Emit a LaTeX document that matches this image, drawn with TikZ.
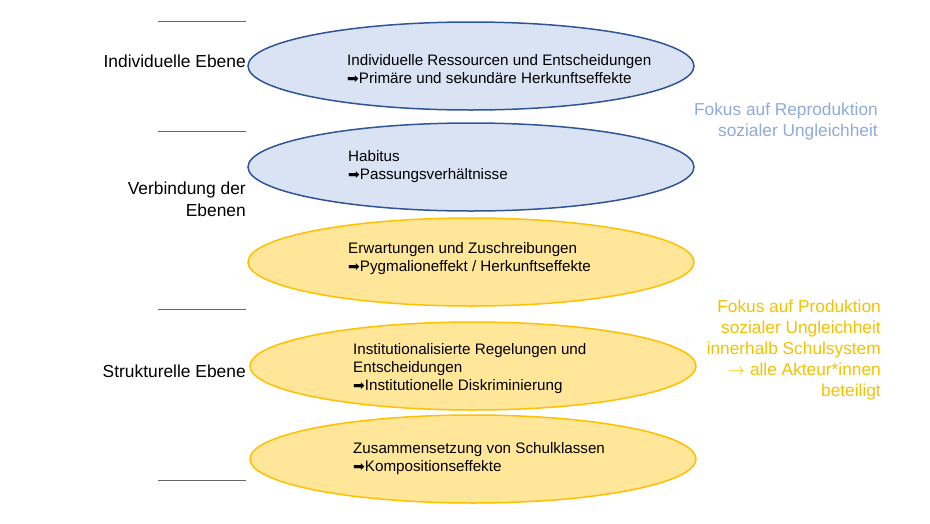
\documentclass[tikz,border=0pt]{standalone}
\usepackage{fontspec}
\setmainfont{Liberation Sans}
\newfontfamily\arrowfont{DejaVu Sans}
\usetikzlibrary{shapes.geometric}
\definecolor{blaufill}{HTML}{DAE3F3}
\definecolor{blaurand}{HTML}{2F5597}
\definecolor{blautext}{HTML}{8FAADC}
\definecolor{gelbfill}{HTML}{FFE699}
\definecolor{gelbrand}{HTML}{FFC000}
\definecolor{gelbtext}{HTML}{F2C200}
\newcommand{\pfeil}{{\arrowfont\fontsize{14}{14}\selectfont ➡}}

\begin{document}
\begin{tikzpicture}[x=1pt,y=-1pt]

\tikzset{ebene/.style = {shape=ellipse,line width=1.5pt,inner sep=0pt,minimum width=446pt,minimum height=88pt}}
\tikzset{blau/.style = {ebene,draw=blaurand,fill=blaufill}}
\tikzset{gelb/.style = {ebene,draw=gelbrand,fill=gelbfill}}
\tikzset{inhalt/.style = {anchor=west,align=left,inner sep=0pt,font=\fontsize{15.2}{18}\selectfont}}
\tikzset{stufe/.style = {anchor=east,align=right,inner sep=0pt,font=\fontsize{17.4}{22}\selectfont}}
\tikzset{fokus/.style = {anchor=east,align=right,inner sep=0pt,font=\fontsize{17.3}{21}\selectfont}}
\tikzset{trenner/.style = {draw=black!60,line width=0.8pt}}
\useasboundingbox (0,0) rectangle (930,523);
%ellipses
\node[blau] (ind) at (471,66) {};
\node[blau] (hab) at (471,167) {};
\node[gelb] (erw) at (471,262) {};
\node[gelb] (ins) at (473,366) {};
\node[gelb] (zus) at (473,459) {};
%texts in ellipses
\node[inhalt] (indtext) at (347,69) {Individuelle Ressourcen und Entscheidungen\\\pfeil Primäre und sekundäre Herkunftseffekte};
\node[inhalt] (habtext) at (348,167) {Habitus\\\pfeil Passungsverhältnisse};
\node[inhalt] (erwtext) at (348,259) {Erwartungen und Zuschreibungen\\\pfeil Pygmalioneffekt / Herkunftseffekte};
\node[inhalt] (instext) at (353,369) {Institutionalisierte Regelungen und\\Entscheidungen\\\pfeil Institutionelle Diskriminierung};
\node[inhalt] (zustext) at (353,459) {Zusammensetzung von Schulklassen\\\pfeil Kompositionseffekte};
%levels
\coordinate (l1) at (158,21); \coordinate (r1) at (246,21);
\coordinate (l2) at (158,131); \coordinate (r2) at (246,131);
\coordinate (l3) at (158,309); \coordinate (r3) at (246,309);
\coordinate (l4) at (158,480); \coordinate (r4) at (246,480);
\draw[trenner] (l1) -- (r1);
\draw[trenner] (l2) -- (r2);
\draw[trenner] (l3) -- (r3);
\draw[trenner] (l4) -- (r4);
\node[stufe] (indlabel) at (246,61) {Individuelle Ebene};
\node[stufe] (verlabel) at (246,199) {Verbindung der\\Ebenen};
\node[stufe] (strlabel) at (246,371) {Strukturelle Ebene};
%focus
\node[fokus,text=blautext] (repro) at (878,122) {Fokus auf Reproduktion\\sozialer Ungleichheit};
\node[fokus,text=gelbtext] (prod) at (881,350) {Fokus auf Produktion\\sozialer Ungleichheit\\innerhalb Schulsystem\\$\rightarrow$ alle Akteur*innen\\beteiligt};

\end{tikzpicture}
\end{document}
